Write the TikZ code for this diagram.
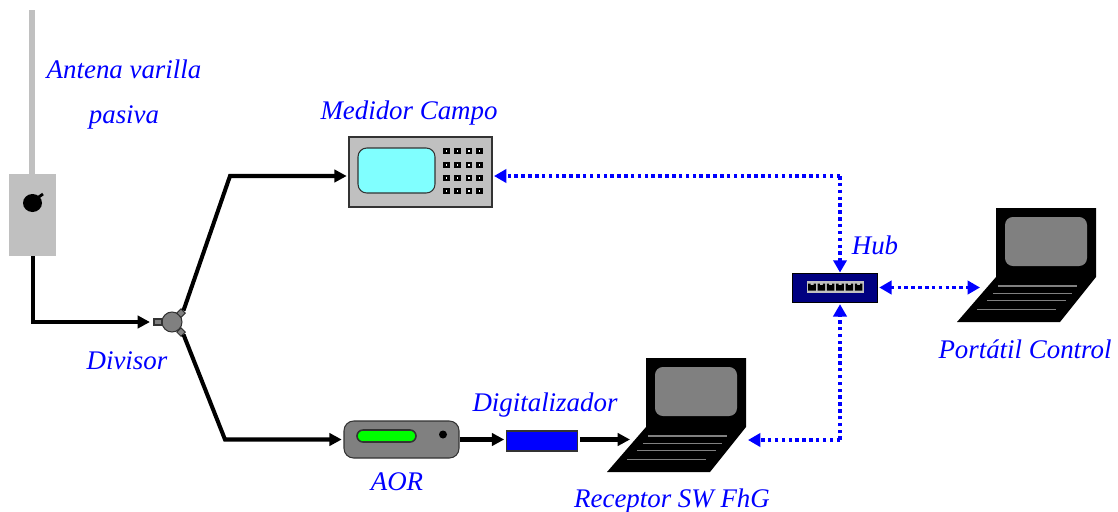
\documentclass[tikz,border=0pt]{standalone}
\usepackage{fontspec}
\setmainfont{Liberation Serif}
\usetikzlibrary{arrows.meta}
\def\px{0.02cm}
\definecolor{panelgray}{RGB}{192,192,192}
\definecolor{darkgray}{RGB}{128,128,128}
\definecolor{hubblue}{RGB}{0,0,128}
\definecolor{screencyan}{RGB}{128,255,255}
\tikzset{
	label/.style={text=blue,font=\fontsize{15.3pt}{18pt}\itshape,inner sep=0pt},
	device/.style={draw=black!80,line width=0.6pt,inner sep=0pt},
	signal/.style={black,line width=2.3pt,-{Triangle[length=7pt,width=7pt]}},
	datalink/.style={blue,line width=2pt,dash pattern=on 2pt off 1.9pt,{Triangle[length=7pt,width=7.5pt]}-{Triangle[length=7pt,width=7.5pt]}},
	datadown/.style={blue,line width=2pt,dash pattern=on 2pt off 1.9pt,-{Triangle[length=7pt,width=7.5pt]}},
	pics/laptop/.style={code={
		\fill[black] (0,0) -- (100,0) -- (100,69) -- (64,114) -- (-39,114) -- (0,69) -- cycle;
		\fill[darkgray,rounded corners=4.5pt] (9,9) rectangle (91,58);
		\draw[darkgray,line width=0.8pt] (2,78) -- (81,78);
		\draw[darkgray,line width=0.8pt] (-3,85.6) -- (76,85.6);
		\draw[darkgray,line width=0.8pt] (-9,92.6) -- (70,92.6);
		\draw[darkgray,line width=0.8pt] (-19,101.6) -- (60,101.6);
		\coordinate (-in) at (-16,82);
		\coordinate (-port) at (102,82);
	}}
}
\begin{document}
\begin{tikzpicture}[x=\px,y=-\px]
	\useasboundingbox (0,0) rectangle (1118,511);

	% antena
	\fill[panelgray] (29,10) rectangle (35,175);
	\node[fill=panelgray,inner sep=0pt,minimum width=47*\px,minimum height=82*\px] (antena) at (32.5,215) {};
	\fill[black] (32.5,203) ellipse (9.5 and 9);
	\draw[black,line width=1.6pt] (36,199) -- (43,194);

	% divisor
	\node[circle,device,fill=darkgray,minimum size=20*\px] (divisor) at (172,322) {};
	\node[device,fill=darkgray,minimum width=8*\px,minimum height=6*\px] (divIn) at (158,322) {};
	\node[device,fill=darkgray,minimum size=6*\px,rotate=45] (divUp) at (181,313) {};
	\node[device,fill=darkgray,minimum size=6*\px,rotate=45] (divDown) at (181,332) {};

	% medidor
	\node[device,fill=panelgray,minimum width=143*\px,minimum height=70*\px] (medidor) at (420.5,172) {};
	\node[device,fill=screencyan,rounded corners=5pt,minimum width=77*\px,minimum height=45*\px] (pantalla) at (396.5,170.5) {};
	\foreach \x in {446.5,457.5,469,479.5}
		\foreach \y in {151,165,178,191}
			\draw[black,fill=white,line width=1.4pt] (\x-2,\y-2.2) rectangle (\x+2,\y+2.2);

	% aor y digitalizador
	\node[device,fill=darkgray,rounded corners=5.5pt,minimum width=115*\px,minimum height=37*\px] (aor) at (401.5,439.5) {};
	\node[device,fill=green,rounded corners=3.4pt,line width=0.9pt,minimum width=59*\px,minimum height=12*\px] (aorled) at (386.5,436) {};
	\fill[black] (443,434.5) circle (4);
	\node[device,fill=blue,minimum width=71*\px,minimum height=20*\px] (digit) at (542,441) {};

	% hub
	\node[draw=black,line width=0.5pt,fill=hubblue,minimum width=85*\px,minimum height=29*\px,inner sep=0pt] (hub) at (834.5,287.5) {};
	\node[draw=panelgray,fill=panelgray,line width=0.6pt,minimum width=55*\px,minimum height=10*\px,inner sep=0pt] (puertos) at (835.5,287) {};
	\foreach \x in {812,821.3,830.6,840,849.3,858.6}
		\fill[black] (\x-3.8,283.5) -- (\x-1.5,283.5) -- (\x-1.5,285) -- (\x+1.5,285) -- (\x+1.5,283.5) -- (\x+3.8,283.5) -- (\x+3.8,290.5) -- (\x-3.8,290.5) -- cycle;

	% portatiles
	\pic (receptor) at (646,358) {laptop};
	\pic (portatil) at (996,208) {laptop};

	% lineas de senal
	\coordinate (antenaBajo) at (33,322);
	\coordinate (codoA) at (230,176);
	\coordinate (codoB) at (225,439.5);
	\draw[signal,shorten >=2pt] (antena.south -| antenaBajo) -- (antenaBajo) -- (divIn.west |- antenaBajo);
	\draw[signal,shorten >=1pt] (divUp.east) -- (codoA) -- (medidor.west |- codoA);
	\draw[signal,shorten >=1pt] (divDown.south) -- (codoB) -- (aor.west);
	\draw[signal,shorten >=1pt] (aor.east) -- (digit.west |- aor.east);
	\draw[signal] ([xshift=1pt]digit.east |- aor.east) -- (receptor-in |- aor.east);

	% red de datos
	\coordinate (hubArriba) at (840,176);
	\coordinate (hubAbajo) at (840,440);
	\coordinate (medidorPuerto) at (494,176);
	\draw[datadown] (hubArriba) -- (medidorPuerto);
	\draw[datadown] (hubArriba) -- (hubArriba |- hub.north);
	\draw[datadown] (hubAbajo) -- ([yshift=-1pt]hubAbajo |- hub.south);
	\draw[datadown] (hubAbajo) -- (receptor-port);
	\draw[datalink] ([xshift=1pt]hub.east) -- (portatil-in |- hub.east);

	% etiquetas
	\node[label] (antenaTxt) at (124,69) {Antena varilla};
	\node[label] (pasivaTxt) at (124,117) {pasiva};
	\node[label] (divisorTxt) at (127,361) {Divisor};
	\node[label] (medidorTxt) at (409,113) {Medidor Campo};
	\node[label] (hubTxt) at (875,245) {Hub};
	\node[label] (portatilTxt) at (1025,349) {Portátil Control};
	\node[label] (digitTxt) at (545,405) {Digitalizador};
	\node[label] (aorTxt) at (397,482) {AOR};
	\node[label] (receptorTxt) at (672,501) {Receptor SW FhG};
\end{tikzpicture}
\end{document}
